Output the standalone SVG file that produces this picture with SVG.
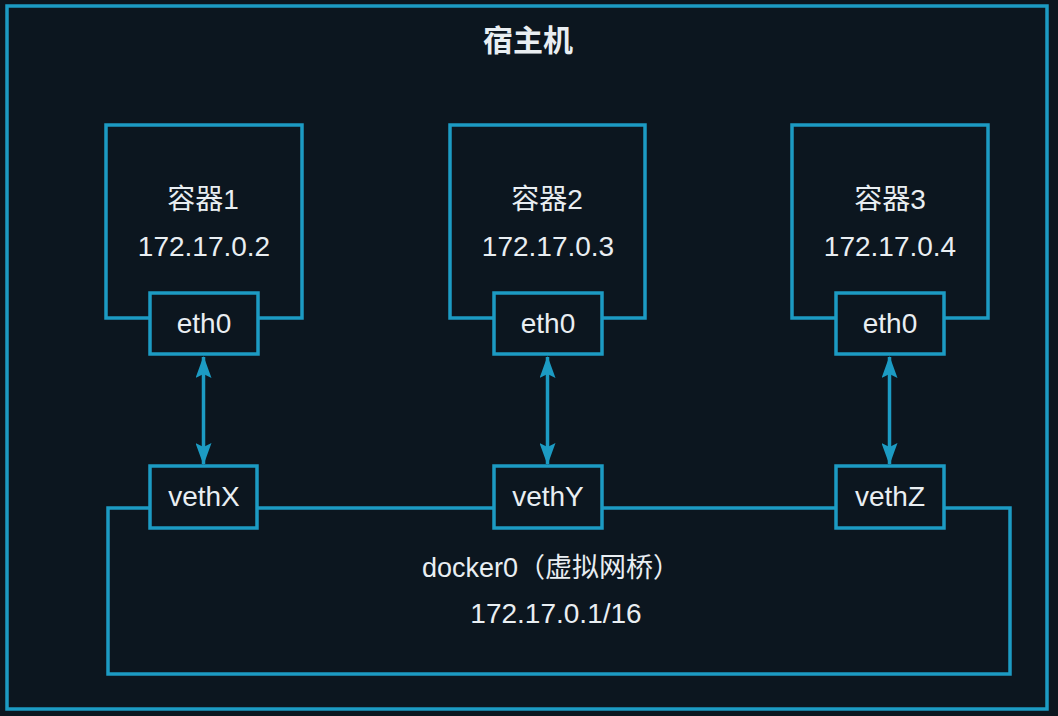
<svg xmlns="http://www.w3.org/2000/svg" width="1058" height="716" viewBox="0 0 1058 716">
<style>
.box{fill:#0c161f;stroke:#1c9bc3;stroke-width:3.5}
.t{fill:#e9eef2;font-family:"Liberation Sans","Noto Sans CJK SC",sans-serif;font-size:28px;text-anchor:middle}
.title{font-weight:bold;font-size:30px}
.arr{stroke:#1c9bc3;stroke-width:3.5;fill:none}
</style>
<defs>
<marker id="ah" viewBox="0 0 22 16" refX="21" refY="8" markerWidth="22" markerHeight="16" markerUnits="userSpaceOnUse" orient="auto-start-reverse">
<path d="M0,0 L22,8 L0,16 L4,8 Z" fill="#1c9bc3"/>
</marker>
</defs>
<rect width="1058" height="716" fill="#0c161f"/>
<g id="host">
<rect class="box" x="7" y="6" width="1040" height="703"/>
<text class="t title" x="528" y="51">宿主机</text>
</g>
<g id="bridge">
<rect class="box" x="108" y="508" width="902" height="166"/>
<text class="t" x="551" y="577" style="font-size:27px">docker0（虚拟网桥）</text>
<text class="t" x="556" y="623">172.17.0.1/16</text>
</g>
<g id="container1">
<rect class="box" x="106" y="125" width="196" height="193"/>
<text class="t" x="203" y="209">容器1</text>
<text class="t" x="204" y="256">172.17.0.2</text>
</g>
<g id="eth0-1">
<rect class="box" x="150" y="293" width="108" height="61"/>
<text class="t" x="204" y="333">eth0</text>
</g>
<g id="container2">
<rect class="box" x="450" y="125" width="195" height="193"/>
<text class="t" x="547" y="209">容器2</text>
<text class="t" x="548" y="256">172.17.0.3</text>
</g>
<g id="eth0-2">
<rect class="box" x="494" y="293" width="108" height="61"/>
<text class="t" x="548" y="333">eth0</text>
</g>
<g id="container3">
<rect class="box" x="792" y="125" width="196" height="193"/>
<text class="t" x="890" y="209">容器3</text>
<text class="t" x="890" y="256">172.17.0.4</text>
</g>
<g id="eth0-3">
<rect class="box" x="836" y="293" width="108" height="61"/>
<text class="t" x="890" y="333">eth0</text>
</g>
<g id="vethX">
<rect class="box" x="150" y="466" width="107" height="62"/>
<text class="t" x="204" y="506">vethX</text>
</g>
<g id="vethY">
<rect class="box" x="494" y="466" width="108" height="62"/>
<text class="t" x="548" y="506">vethY</text>
</g>
<g id="vethZ">
<rect class="box" x="836" y="466" width="108" height="62"/>
<text class="t" x="890" y="506">vethZ</text>
</g>
<g id="connectors">
<line class="arr" x1="203.5" y1="357" x2="203.5" y2="464" marker-start="url(#ah)" marker-end="url(#ah)"/>
<line class="arr" x1="547.5" y1="357" x2="547.5" y2="464" marker-start="url(#ah)" marker-end="url(#ah)"/>
<line class="arr" x1="889.5" y1="357" x2="889.5" y2="464" marker-start="url(#ah)" marker-end="url(#ah)"/>
</g>
</svg>
